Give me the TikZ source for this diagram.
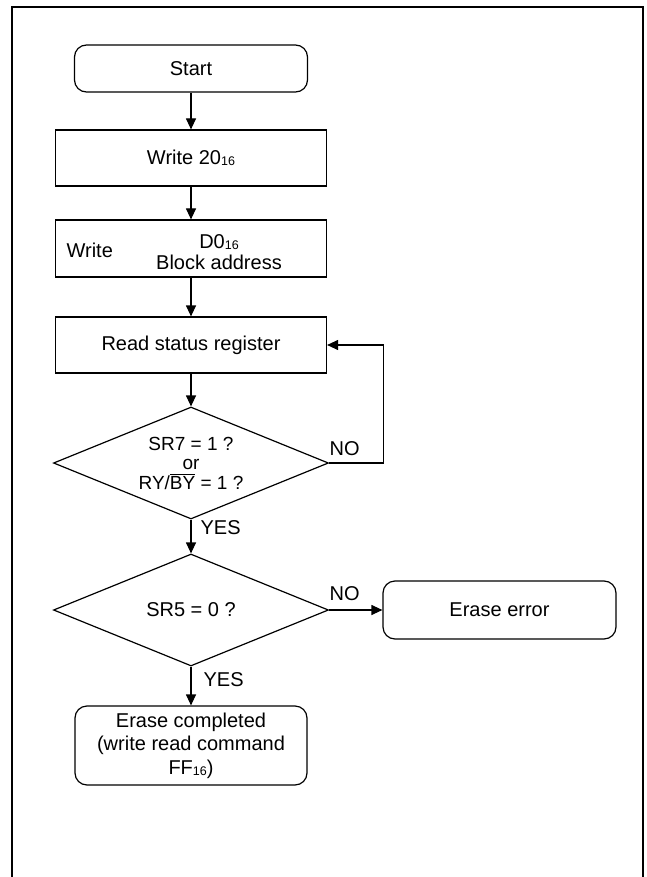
\documentclass[tikz,border=0pt]{standalone}
\usepackage{fontspec}
\setmainfont{Liberation Sans}
\usetikzlibrary{shapes.geometric,arrows.meta}
\newcommand\hexsub[1]{{\fontsize{12.5}{12.5}\selectfont\raisebox{-1.5pt}{#1}}}
\newcommand\ovl[1]{$\overline{\mbox{#1}}$}

\begin{document}
\begin{tikzpicture}[x=1pt, y=-1pt, line width=1.2pt,
  every node/.style={font=\fontsize{20}{22}\selectfont, inner sep=0pt},
  procbox/.style={draw, rectangle, minimum width=271pt, minimum height=56pt},
  termbox/.style={draw, rectangle, rounded corners=12pt, minimum width=233pt, minimum height=47pt, align=center},
  decbox/.style={draw, diamond, aspect=2.5, minimum width=275pt, minimum height=112pt, align=center},
  flow/.style={-{Triangle[width=10pt,length=11pt]}}]
  \useasboundingbox (0,0) rectangle (647,877);
  \draw[line width=2pt] (12,877) -- (12,7) -- (643,7) -- (643,877);

  \node[termbox] (start) at (191,68.5) {Start};
  \node[procbox] (w20) at (191,158) {Write 20\hexsub{16}};
  \node[procbox, minimum height=57pt] (wd0) at (191,248.5) {};
  \node[anchor=west] (wd0a) at (66,250) {Write};
  \node[align=center, font=\fontsize{20}{21}\selectfont] (wd0b) at (219,252) {D0\hexsub{16}\\Block address};
  \node[procbox] (rsr) at (191,345) {Read status register};
  \node[decbox, font=\fontsize{19}{19.5}\selectfont] (d1) at (191,463) {SR7 = 1 ?\\or\\RY/\ovl{BY} = 1 ?};
  \node[decbox] (d2) at (191,610) {SR5 = 0 ?};
  \node[termbox, minimum height=58pt] (err) at (499.5,610) {Erase error};
  \node[termbox, minimum width=232pt, minimum height=79pt, font=\fontsize{20}{23.5}\selectfont] (done) at (191,745.5)
    {Erase completed\\(write read command\\FF\hexsub{16})};

  \node[anchor=west] (no1) at (329,449) {NO};
  \node[anchor=west] (yes1) at (200,528) {YES};
  \node[anchor=west] (no2) at (329,594) {NO};
  \node[anchor=west] (yes2) at (203,680) {YES};

  \draw[flow] (start) -- (w20);
  \draw[flow] (w20) -- (wd0);
  \draw[flow] (wd0) -- (rsr);
  \draw[flow] (rsr) -- (d1);
  \draw[flow] (d1.east) -- ++(54,0) |- (rsr.east);
  \draw[flow] (d1) -- (d2);
  \draw[flow] (d2.east) -- (err.west);
  \draw[flow] (d2) -- (done);
\end{tikzpicture}
\end{document}
